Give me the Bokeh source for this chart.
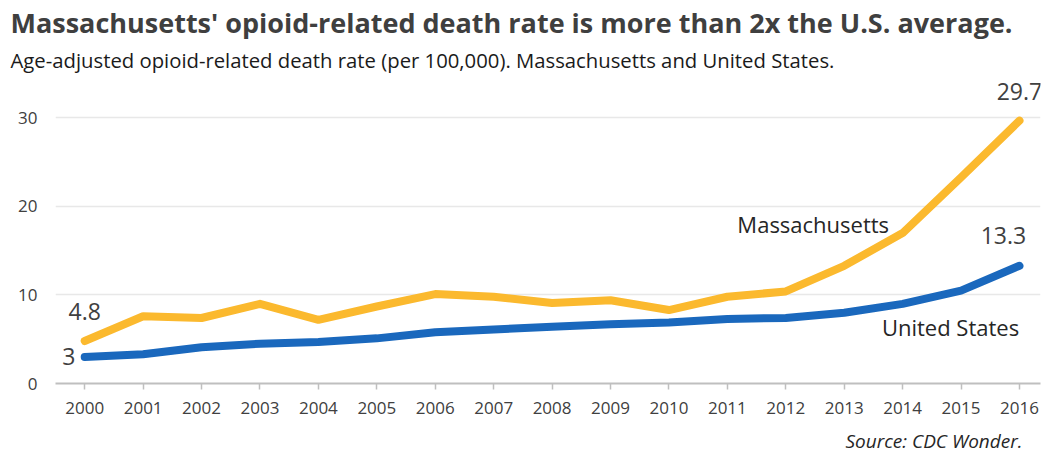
from bokeh.plotting import figure
from bokeh.models import Title, FixedTicker, Range1d
from bokeh.core.properties import value
from bokeh.embed import file_html
from bokeh.resources import INLINE

years = list(range(2000, 2017))
massachusetts = [4.8, 7.6, 7.4, 9.0, 7.2, 8.7, 10.1, 9.8, 9.1, 9.4, 8.3, 9.8, 10.4, 13.3, 17.0, 23.3, 29.7]
united_states = [3.0, 3.3, 4.1, 4.5, 4.7, 5.1, 5.8, 6.1, 6.4, 6.7, 6.9, 7.3, 7.4, 8.0, 9.0, 10.5, 13.3]
y_ticks = [0, 10, 20, 30]

title_text = "Massachusetts' opioid-related death rate is more than 2x the U.S. average."
subtitle_text = "Age-adjusted opioid-related death rate (per 100,000). Massachusetts and United States."
source_text = "Source: CDC Wonder."

GOLD = "#FBB92E"
BLUE = "#1A68BD"
FONT = "Open Sans"

p = figure(width=1046, height=462, output_backend="svg", toolbar_location=None,
           x_range=Range1d(1999.5, 2016.36), y_range=Range1d(0, 34.8),
           min_border_left=55, min_border_right=6, min_border_bottom=78, min_border_top=75)
p.outline_line_color = None
p.background_fill_color = "white"
p.border_fill_color = "white"

# Titles
p.add_layout(Title(text=subtitle_text, align="left", offset=-45, text_font=FONT,
                   text_font_size="20.3px", text_font_style="normal", text_color="#1a1a1a",
                   standoff=4), "above")
p.add_layout(Title(text=title_text, align="left", offset=-45, text_font=FONT,
                   text_font_size="27px", text_font_style="bold", text_color="#3f3f3f",
                   standoff=2), "above")
p.add_layout(Title(text=source_text, align="right", offset=18, text_font=FONT,
                   text_font_size="19px", text_font_style="italic", text_color="#262626",
                   standoff=18), "below")

# Lines
p.line(years, massachusetts, line_color=GOLD, line_width=8, line_join="round", line_cap="round")
p.line(years, united_states, line_color=BLUE, line_width=8, line_join="round", line_cap="round")

# Value labels
lab = dict(text_font=value(FONT), text_font_size="23px", text_color="#404040",
           text_align="center", text_baseline="middle")
p.text(x=[years[0]], y=[massachusetts[0]], text=[f"{massachusetts[0]:g}"], y_offset=-30, **lab)
p.text(x=[years[0]], y=[united_states[0]], text=[f"{united_states[0]:g}"], x_offset=-16, **lab)
p.text(x=[years[-1]], y=[massachusetts[-1]], text=[f"{massachusetts[-1]:g}"], y_offset=-29, **lab)
p.text(x=[years[-1]], y=[united_states[-1]], text=[f"{united_states[-1]:g}"], x_offset=-16, y_offset=-30, **lab)

series_lab = dict(lab, text_color="#262626", text_font_size="22px")
p.text(x=[2012.47], y=[18.0], text=["Massachusetts"], **series_lab)
p.text(x=[2014.82], y=[6.4], text=["United States"], **series_lab)

# Axes
p.xaxis.ticker = FixedTicker(ticks=years)
p.xaxis.axis_line_color = "#bfbfbf"
p.xaxis.axis_line_width = 2
p.xaxis.major_tick_line_color = "#bfbfbf"
p.xaxis.major_tick_line_width = 1.5
p.xaxis.major_tick_out = 6
p.xaxis.major_tick_in = 0
p.xaxis.minor_tick_line_color = None
p.xaxis.major_label_text_font = FONT
p.xaxis.major_label_text_font_size = "17px"
p.xaxis.major_label_text_color = "#404040"
p.xaxis.major_label_standoff = 12

p.yaxis.ticker = FixedTicker(ticks=y_ticks)
p.yaxis.axis_line_color = None
p.yaxis.major_tick_line_color = None
p.yaxis.minor_tick_line_color = None
p.yaxis.major_tick_out = 0
p.yaxis.major_tick_in = 0
p.yaxis.major_label_text_font = FONT
p.yaxis.major_label_text_font_size = "17px"
p.yaxis.major_label_text_color = "#404040"
p.yaxis.major_label_standoff = 18

p.xgrid.grid_line_color = None
p.ygrid.grid_line_color = "#e8e8e8"
p.ygrid.grid_line_width = 1.5

open("out.html", "w").write(file_html(p, INLINE))
